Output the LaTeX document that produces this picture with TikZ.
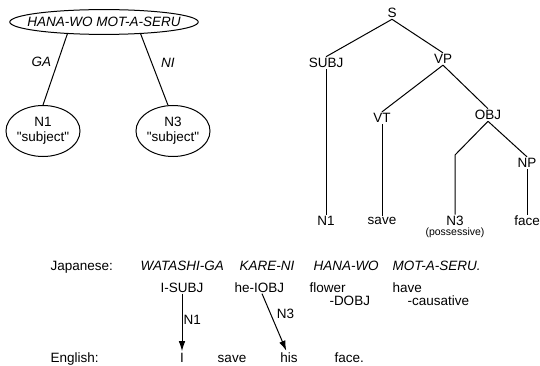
\documentclass[tikz,border=0pt]{standalone}
\usepackage{fontspec}
\setmainfont{Liberation Sans}
\usetikzlibrary{arrows.meta,positioning,shapes.geometric}

\begin{document}
\begin{tikzpicture}[x=1pt,y=-1pt,>={Latex[length=10pt,width=6.5pt]},line width=1pt,
  every node/.style={font=\fontsize{13.5}{15}\selectfont,inner sep=1pt},
  jp/.style={font=\fontsize{13.5}{15}\selectfont\itshape},
  oval/.style={draw,ellipse,align=center,inner sep=0pt,
               minimum width=73pt,minimum height=51pt}]
 \useasboundingbox (0,0) rectangle (540,366);

 % case frame of the verb
 \node[draw,ellipse,jp,inner xsep=-10pt,inner ysep=4pt] (verb) at (104,22) {HANA-WO MOT-A-SERU};
 \node[oval] (n1) at (43,131) {N1\\\textquotedbl subject\textquotedbl};
 \node[oval] (n3) at (173,131) {N3\\\textquotedbl subject\textquotedbl};
 \draw (verb.198) -- node[pos=.4,left=5pt,jp] {GA} (n1.north);
 \draw (verb.342) -- node[pos=.4,right=8pt,jp] {NI} (n3.101);

 % english tree
 \node (s) at (392,13) {S};
 \node (subj) at (326,63) {SUBJ};
 \node (vp) at (443,59) {VP};
 \node (vt) at (382,118) {VT};
 \node (obj) at (488,115) {OBJ};
 \node (np) at (527,163) {NP};
 \coordinate (bend) at (455,155);
 \node (tn1) at (326,221) {N1};
 \node (tsave) at (382,221) {save};
 \node (tn3) at (455,221) {N3};
 \node[below=-1pt of tn3,font=\fontsize{10.5}{12}\selectfont] (poss) {(possessive)};
 \node (tface) at (527,221) {face};
 \draw (s.south) -- (subj.north);
 \draw (s.south) -- (vp.north);
 \draw (vp.south) -- (vt.north);
 \draw (vp.south) -- (obj.north);
 \draw (obj.south) -- (bend) -- (tn3.north);
 \draw (obj.south) -- (np.north);
 \draw (subj) -- (tn1);
 \draw (vt) -- (tsave);
 \draw (np) -- (tface);

 % sentence and glosses
 \node[anchor=base west] (japanese) at (49,270) {Japanese:};
 \node[jp,anchor=base west] (watashi) at (139,270) {WATASHI-GA};
 \node[jp,anchor=base west] (kare) at (238,270) {KARE-NI};
 \node[jp,anchor=base west] (hana) at (312,270) {HANA-WO};
 \node[jp,anchor=base west] (mot) at (391,270) {MOT-A-SERU.};

 \node[anchor=base] (isubj) at (182,292) {I-SUBJ};
 \node[anchor=base west] (heiobj) at (233,292) {he-IOBJ};
 \node[anchor=base west] (flower) at (308,292) {flower};
 \node[anchor=base west] (dobj) at (328,305) {-DOBJ};
 \node[anchor=base west] (have) at (391,292) {have};
 \node[anchor=base west] (causative) at (406,305) {-causative};

 \node[anchor=base west] (english) at (49,362) {English:};
 \node[anchor=base] (engI) at (182,362) {I};
 \node[anchor=base] (esave) at (232,362) {save};
 \node[anchor=base] (his) at (289,362) {his};
 \node[anchor=base west] (eface) at (333,362) {face.};

 \draw[->] (isubj) -- node[pos=.45,right] {N1} (engI);
 \draw[->] (heiobj) -- node[pos=.35,right=5pt] {N3} (his);
\end{tikzpicture}
\end{document}
